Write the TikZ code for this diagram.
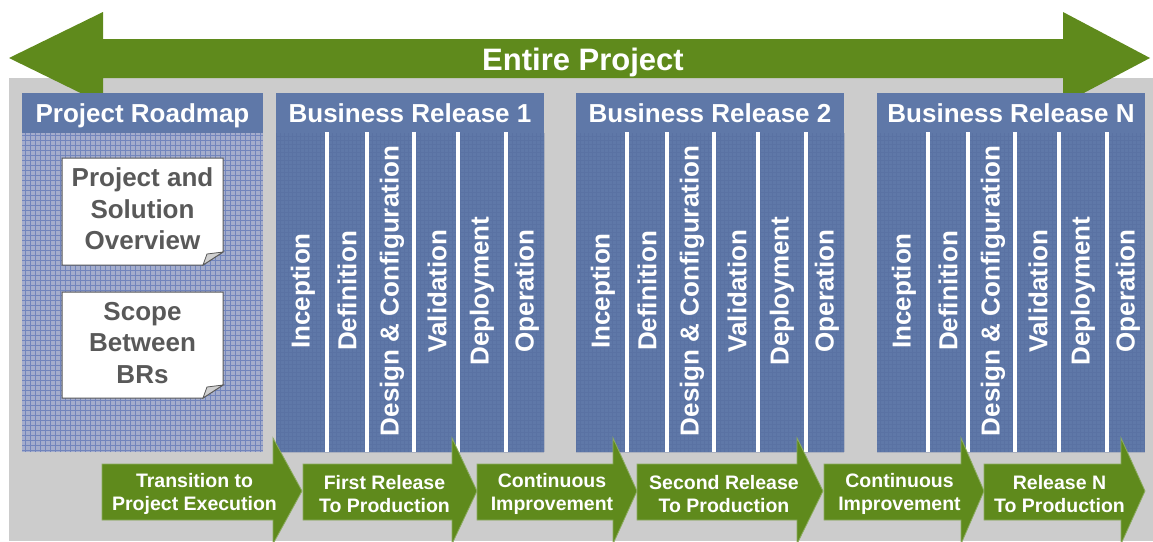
\documentclass[tikz,border=0pt]{standalone}
\usepackage{fontspec}
\setmainfont{Liberation Sans}
\definecolor{leaf}{RGB}{95,138,28}
\definecolor{leafedge}{RGB}{140,172,96}
\definecolor{slate}{RGB}{95,120,168}
\definecolor{slategrid}{RGB}{78,100,150}
\definecolor{paper}{RGB}{204,204,204}
\definecolor{mapfill}{RGB}{164,173,204}
\definecolor{mapline}{RGB}{114,133,188}
\definecolor{ink}{RGB}{89,89,89}
\definecolor{flap}{RGB}{208,208,208}
\tikzset{
  bigtitle/.style={text=white, inner sep=0pt, anchor=base, font=\fontsize{31}{36}\selectfont\bfseries},
  boxtitle/.style={text=white, inner sep=0pt, anchor=base, font=\fontsize{26}{30}\selectfont\bfseries},
  phase/.style={rotate=90, text=white, inner sep=0pt, font=\fontsize{26}{30}\selectfont\bfseries},
  notetext/.style={text=ink, align=center, inner sep=0pt, font=\fontsize{26}{31.5}\selectfont\bfseries},
  steptext/.style={text=white, align=center, inner sep=0pt, font=\fontsize{19.5}{23}\selectfont\bfseries},
  relbox/.style={fill=slate, draw=none, anchor=north west, inner sep=0pt, minimum width=268pt, minimum height=359pt},
  mapbox/.style={fill=mapfill, draw=none, anchor=north west, inner sep=0pt, minimum width=241pt, minimum height=359pt},
  divider/.style={white, line width=4pt},
  chevron/.style={fill=leaf, draw=leafedge, line width=0.8pt},
  notecard/.style={fill=white, draw=ink, line width=1pt},
}
\begin{document}
\begin{tikzpicture}[x=1pt,y=-1pt]
\useasboundingbox (0,0) rectangle (1153,541);
\clip (0,0) rectangle (1153,541);

% grey backdrop
\fill[paper] (9,78) rectangle (1153,541);

% double-headed project arrow
\fill[leaf] (9,58) -- (103,12) -- (103,39) -- (1063,39) -- (1063,12) -- (1150,58)
  -- (1063,104) -- (1063,78) -- (103,78) -- (103,104) -- cycle;
\node[bigtitle] (entire) at (583,70.5) {Entire Project};

% project roadmap panel with grid paper
\node[mapbox] (roadmap) at (22,93) {};
\draw[mapline, line width=0.5pt, step=5pt] (22,133) grid (263,452);
\fill[slate] (22,93) rectangle (263,133);
\node[boxtitle] (roadmaptitle) at (142.5,122.5) {Project Roadmap};

% note cards with curled corner
\draw[notecard] (62,158) -- (223,158) -- (223,252) -- (203,265) -- (62,265) -- cycle;
\filldraw[fill=flap, draw=ink, line width=0.8pt] (203,265) -- (207,254) -- (223,252) -- cycle;
\node[notetext] (overview) at (142.5,209) {Project and\\Solution\\Overview};

\draw[notecard] (62,292) -- (223,292) -- (223,385) -- (203,398) -- (62,398) -- cycle;
\filldraw[fill=flap, draw=ink, line width=0.8pt] (203,398) -- (207,387) -- (223,385) -- cycle;
\node[notetext] (scope) at (142.5,343) {Scope\\Between\\BRs};

% business release panels
\foreach \bx/\tag in {276/1, 576/2, 877/N} {
  \node[relbox] (rel\tag) at (\bx,93) {};
  \draw[slategrid, line width=0.4pt, opacity=0.25, step=4pt] (\bx,133) grid (\bx+268,452);
  \node[boxtitle] (reltitle\tag) at (\bx+134,122.5) {Business Release \tag};
  \foreach \dx in {51,91,138,182,230} {
    \draw[divider] (\bx+\dx,132) -- (\bx+\dx,452);
  }
  \node[phase] (inception\tag) at (\bx+27,291) {Inception};
  \node[phase] (definition\tag) at (\bx+71,291) {Definition};
  \node[phase] (design\tag) at (\bx+116,291) {Design \& Configuration};
  \node[phase] (validation\tag) at (\bx+161,291) {Validation};
  \node[phase] (deployment\tag) at (\bx+206,291) {Deployment};
  \node[phase] (operation\tag) at (\bx+251,291) {Operation};
}

% milestone chevrons along the bottom
\foreach \a/\b/\t/\k/\txt in {
  102/273/302/1/{Transition to\\Project Execution},
  303/452/477/2/{First Release\\To Production},
  477/613/637/3/{Continuous\\Improvement},
  637/797/823/4/{Second Release\\To Production},
  824/961/984/5/{Continuous\\Improvement},
  984/1121/1145/6/{Release N\\To Production}} {
  \draw[chevron] (\a,464) -- (\b,464) -- (\b,438) -- (\t,491) -- (\b,544)
    -- (\b,520) -- (\a,520) -- cycle;
  \node[steptext] (milestone\k) at ({(\a+\b)/2+7},494) {\txt};
}
\end{tikzpicture}
\end{document}
